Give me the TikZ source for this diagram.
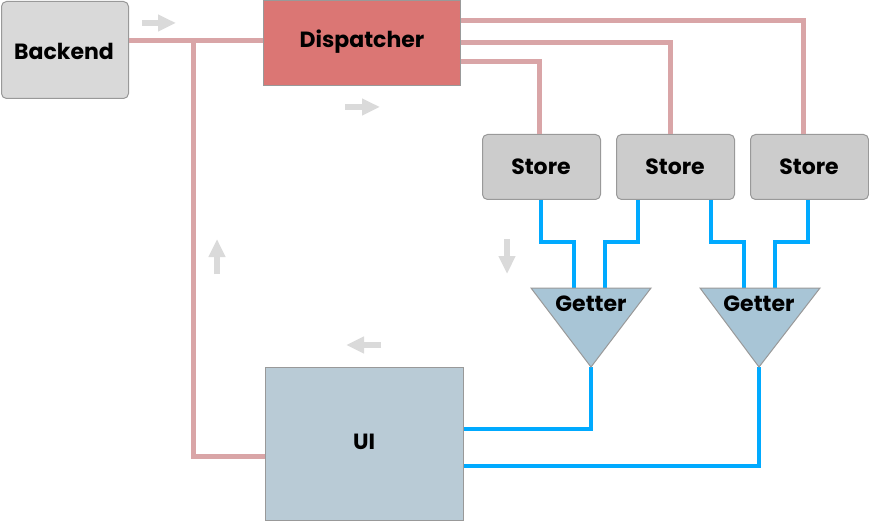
\documentclass[tikz,border=0pt]{standalone}
\usepackage{fontspec}
\setmainfont{Poppins}
\usetikzlibrary{arrows.meta}
\definecolor{pinkline}{HTML}{D9A5A7}
\definecolor{dispfill}{HTML}{DB7674}
\definecolor{boxborder}{HTML}{999999}
\definecolor{backfill}{HTML}{D9D9D9}
\definecolor{storefill}{HTML}{CCCCCC}
\definecolor{getfill}{HTML}{A8C5D6}
\definecolor{uifill}{HTML}{B9CBD6}
\definecolor{blueline}{HTML}{00AAFF}
\definecolor{hintgray}{HTML}{DADADA}
\tikzset{
  lbl/.style={font=\bfseries\fontsize{22}{24}\selectfont, text=black},
  boxrect/.style={draw=boxborder, line width=1pt, inner sep=0pt, anchor=north west},
  pinkwire/.style={draw=pinkline, line width=5pt, line join=miter},
  bluewire/.style={draw=blueline, line width=4.5pt, line join=miter},
  hintarrow/.style={draw=hintgray, line width=6pt, -{Triangle[length=18pt,width=16pt]}},
}
\begin{document}
\begin{tikzpicture}[x=1pt,y=-1pt]
\useasboundingbox (0,0) rectangle (869,521);
\coordinate (t1) at (193,41);
\coordinate (b1) at (193,456);
% nodes
\node[boxrect, fill=backfill, rounded corners=5pt, minimum width=127pt, minimum height=97pt] (backend) at (1,1) {};
\node[lbl] (backendlbl) at (64,51) {Backend};
\node[boxrect, fill=dispfill, minimum width=197pt, minimum height=85pt] (disp) at (263,0) {};
\node[lbl] (displbl) at (362,42) {Dispatcher};
\node[boxrect, fill=storefill, rounded corners=5pt, minimum width=118pt, minimum height=65pt] (s1) at (482,134) {};
\node[boxrect, fill=storefill, rounded corners=5pt, minimum width=118pt, minimum height=65pt] (s2) at (616,134) {};
\node[boxrect, fill=storefill, rounded corners=5pt, minimum width=118pt, minimum height=65pt] (s3) at (750,134) {};
\node[lbl] (s1lbl) at (541,167) {Store};
\node[lbl] (s2lbl) at (675,167) {Store};
\node[lbl] (s3lbl) at (809,167) {Store};
\node[boxrect, fill=uifill, minimum width=198pt, minimum height=153pt] (ui) at (265,367) {};
\node[lbl] (uilbl) at (364,442) {UI};
% getters
\coordinate (g1a) at (591,367);
\coordinate (g2a) at (759,367);
\coordinate (g1l) at (574,288);
\coordinate (g1r) at (605,288);
\coordinate (g2l) at (744,288);
\coordinate (g2r) at (775,288);
% pink wires
\draw[pinkwire] (backend.east |- t1) -- (disp.west |- t1);
\draw[pinkwire] (t1) -- (b1) -- (ui.west |- b1);
\draw[pinkwire] (disp.east |- 0,21) -| (s3.north -| 803,0);
\draw[pinkwire] (disp.east |- 0,43) -| (s2.north -| 670,0);
\draw[pinkwire] (disp.east |- 0,62) -| (s1.north -| 539,0);
% blue wires
\draw[bluewire] (s1.south -| 541,0) |- (574,242) -- (g1l);
\draw[bluewire] (s2.south -| 638,0) |- (605,242) -- (g1r);
\draw[bluewire] (s2.south -| 711,0) |- (744,242) -- (g2l);
\draw[bluewire] (s3.south -| 808,0) |- (775,242) -- (g2r);
\draw[bluewire] (g1a) |- (ui.east |- 0,429);
\draw[bluewire] (g2a) |- (ui.east |- 0,466);
% getter triangles
\draw[draw=boxborder, line width=1pt, fill=getfill] (531,288) -- (651,288) -- (g1a) -- cycle;
\draw[draw=boxborder, line width=1pt, fill=getfill] (700,288) -- (820,288) -- (g2a) -- cycle;
\node[lbl] (g1lbl) at (591,304) {Getter};
\node[lbl] (g2lbl) at (759,304) {Getter};
% hint arrows
\coordinate (h1s) at (142,23); \coordinate (h1e) at (176,23);
\coordinate (h2s) at (345,107); \coordinate (h2e) at (380,107);
\coordinate (h3s) at (507,239); \coordinate (h3e) at (507,274);
\coordinate (h4s) at (381,345); \coordinate (h4e) at (346,345);
\coordinate (h5s) at (217,274); \coordinate (h5e) at (217,239);
\draw[hintarrow] (h1s) -- (h1e);
\draw[hintarrow] (h2s) -- (h2e);
\draw[hintarrow] (h3s) -- (h3e);
\draw[hintarrow] (h4s) -- (h4e);
\draw[hintarrow] (h5s) -- (h5e);
\end{tikzpicture}
\end{document}
